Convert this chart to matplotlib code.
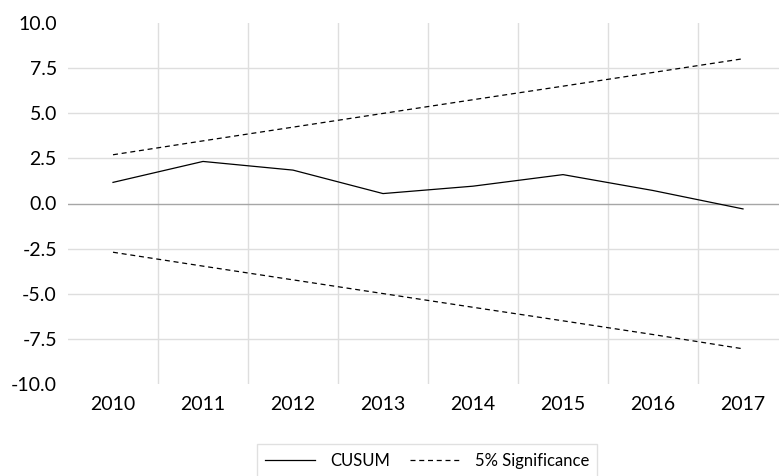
import matplotlib
matplotlib.use("Agg")
import matplotlib.pyplot as plt
import numpy as np

years = ["2010", "2011", "2012", "2013", "2014", "2015", "2016", "2017"]
cusum = [1.17, 2.33, 1.85, 0.55, 0.96, 1.60, 0.72, -0.30]
upper = [2.70, 3.47, 4.23, 4.99, 5.75, 6.50, 7.26, 8.02]
lower = [-2.70, -3.47, -4.23, -4.99, -5.75, -6.50, -7.26, -8.05]
yticks = [-10.0, -7.5, -5.0, -2.5, 0.0, 2.5, 5.0, 7.5, 10.0]

plt.rcParams['font.family'] = ['Lato', 'DejaVu Sans']

W, H = 779, 476
fig = plt.figure(figsize=(W/100, H/100), dpi=100)
ax = fig.add_axes([68/W, 1-384/H, 720/W, 361/H])

x = np.arange(len(years))
ax.plot(x, cusum, color='black', lw=0.9, label='CUSUM')
ax.plot(x, upper, color='black', lw=0.9, linestyle=(0, (4, 3)), label='5% Significance')
ax.plot(x, lower, color='black', lw=0.9, linestyle=(0, (4, 3)))

ax.set_xlim(-0.5, 7.5)
ax.set_ylim(-10, 10)
ax.set_yticks(yticks)
ax.set_yticklabels([f"{v:.1f}" for v in yticks])
ax.set_xticks(x)
ax.set_xticklabels(years)

for s in ax.spines.values():
    s.set_visible(False)

ax.tick_params(axis='both', which='both', length=0, labelsize=14, colors='#000000')
ax.tick_params(axis='y', pad=8)
ax.tick_params(axis='x', pad=9)

# gridlines
for v in yticks:
    if abs(v) < 10 and v != 0:
        ax.axhline(v, color='#dedede', lw=1, zorder=0)
for xv in np.arange(0.5, 7, 1):
    ax.axvline(xv, color='#dedede', lw=1, zorder=0)
ax.axhline(0, color='#a6a6a6', lw=1, zorder=1)

leg = fig.legend(loc='upper center', bbox_to_anchor=(427/W, 1-436/H), ncol=2,
                 frameon=True, fontsize=12, handlelength=3.0, columnspacing=1.2,
                 handletextpad=0.9, borderpad=0.5, fancybox=False)
leg.get_frame().set_edgecolor('#d9d9d9')
leg.get_frame().set_linewidth(1)

fig.savefig("out.png", dpi=100)
